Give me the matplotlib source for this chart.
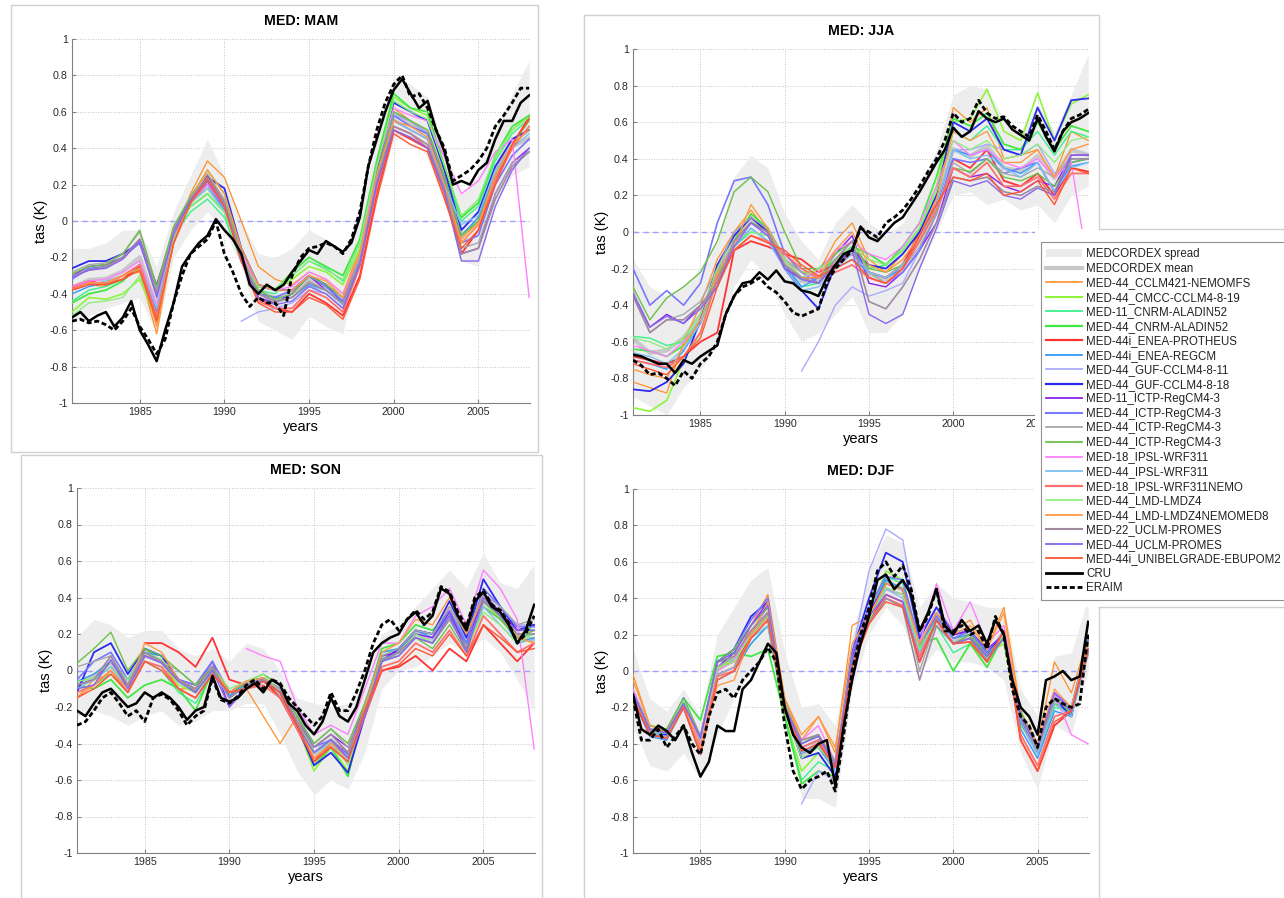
import numpy as np
import matplotlib
matplotlib.use("Agg")
import matplotlib.pyplot as plt
from matplotlib.patches import Rectangle, Patch
from matplotlib.lines import Line2D

nan = np.nan
W, H = 1284, 898

# time axes: half-year steps for the observations, yearly for the RCMs
years_obs = np.arange(1981, 2008.01, 0.5)
years_mod = np.arange(1981, 2009)

model_names = [
    "MED-44_CCLM421-NEMOMFS", "MED-44_CMCC-CCLM4-8-19", "MED-11_CNRM-ALADIN52",
    "MED-44_CNRM-ALADIN52", "MED-44i_ENEA-PROTHEUS", "MED-44i_ENEA-REGCM",
    "MED-44_GUF-CCLM4-8-11", "MED-44_GUF-CCLM4-8-18", "MED-11_ICTP-RegCM4-3",
    "MED-44_ICTP-RegCM4-3", "MED-44_ICTP-RegCM4-3", "MED-44_ICTP-RegCM4-3",
    "MED-18_IPSL-WRF311", "MED-44_IPSL-WRF311", "MED-18_IPSL-WRF311NEMO",
    "MED-44_LMD-LMDZ4", "MED-44_LMD-LMDZ4NEMOMED8", "MED-22_UCLM-PROMES",
    "MED-44_UCLM-PROMES", "MED-44i_UNIBELGRADE-EBUPOM2",
]
model_colors = [
    "#ff8f2a", "#8cf53c", "#3cf08c", "#44e644", "#ff3333", "#3399ff",
    "#aaaaff", "#2a2af0", "#8822ee", "#7777ff", "#a8a8a8", "#6cc04a",
    "#ff80ff", "#7ec0ee", "#ff7070", "#88ee77", "#ff9944", "#a08aa0",
    "#8866ee", "#ff5533",
]
model_widths = [0.9, 1.2, 1.0, 1.3, 1.3, 1.0, 1.0, 1.3, 1.0, 1.2,
                1.0, 1.0, 1.0, 1.0, 1.3, 0.9, 1.0, 1.2, 1.0, 1.0]

# ---------------- MAM ----------------
mam_cru = [-0.53, -0.50, -0.55, -0.52, -0.50, -0.58, -0.53, -0.44, -0.60, -0.68,
           -0.77, -0.60, -0.45, -0.25, -0.18, -0.12, -0.08, 0.01, -0.05, -0.10,
           -0.18, -0.35, -0.40, -0.35, -0.38, -0.35, -0.28, -0.22, -0.16, -0.18,
           -0.11, -0.14, -0.17, -0.12, 0.02, 0.30, 0.45, 0.60, 0.72, 0.78,
           0.70, 0.62, 0.66, 0.50, 0.38, 0.20, 0.22, 0.20, 0.28, 0.32,
           0.45, 0.55, 0.55, 0.65, 0.69]
mam_eraim = [-0.55, -0.54, -0.56, -0.55, -0.57, -0.60, -0.55, -0.48, -0.58, -0.65,
             -0.73, -0.65, -0.45, -0.30, -0.18, -0.14, -0.10, 0.00, -0.18, -0.28,
             -0.40, -0.47, -0.42, -0.45, -0.45, -0.52, -0.30, -0.20, -0.15, -0.14,
             -0.12, -0.14, -0.18, -0.10, 0.05, 0.30, 0.50, 0.65, 0.75, 0.80,
             0.68, 0.70, 0.62, 0.50, 0.40, 0.22, 0.25, 0.28, 0.33, 0.40,
             0.52, 0.58, 0.65, 0.73, 0.73]
mam_spread_hi = [-0.15, -0.15, -0.12, -0.05, -0.05, -0.25, 0.05, 0.25, 0.45, 0.25,
                 0.00, -0.18, -0.20, -0.15, -0.05, -0.10, -0.20, 0.05, 0.45, 0.80,
                 0.75, 0.68, 0.40, 0.15, 0.25, 0.50, 0.70, 0.88]
mam_spread_lo = [-0.55, -0.52, -0.48, -0.45, -0.42, -0.62, -0.20, -0.05, 0.05, -0.05,
                 -0.25, -0.55, -0.60, -0.65, -0.52, -0.58, -0.62, -0.20, 0.10, 0.45,
                 0.45, 0.35, 0.10, -0.22, -0.25, 0.10, 0.25, 0.30]
mam_models = [
    [-0.38, -0.35, -0.36, -0.30, -0.28, -0.62, -0.10, 0.15, 0.33, 0.24, 0.00, -0.25, -0.32, -0.35, -0.28, -0.32, -0.40, -0.15, 0.30, 0.62, 0.55, 0.50, 0.25, -0.10, 0.00, 0.28, 0.45, 0.50],
    [-0.50, -0.42, -0.43, -0.40, -0.32, -0.55, -0.12, 0.10, 0.18, 0.08, -0.20, -0.35, -0.38, -0.32, -0.25, -0.28, -0.35, -0.15, 0.32, 0.68, 0.62, 0.58, 0.30, 0.02, 0.10, 0.35, 0.50, 0.58],
    [-0.44, -0.38, -0.36, -0.32, -0.26, -0.50, -0.08, 0.05, 0.12, 0.02, -0.22, -0.38, -0.40, -0.30, -0.22, -0.26, -0.33, -0.12, 0.30, 0.66, 0.60, 0.55, 0.28, 0.00, 0.08, 0.33, 0.48, 0.56],
    [-0.45, -0.40, -0.38, -0.33, -0.24, -0.52, -0.06, 0.08, 0.15, 0.05, -0.20, -0.36, -0.38, -0.28, -0.20, -0.25, -0.30, -0.10, 0.33, 0.70, 0.62, 0.60, 0.30, 0.02, 0.10, 0.36, 0.52, 0.58],
    [-0.36, -0.33, -0.35, -0.32, -0.25, -0.55, -0.12, 0.10, 0.25, 0.10, -0.18, -0.42, -0.48, -0.50, -0.40, -0.45, -0.52, -0.30, 0.15, 0.50, 0.45, 0.40, 0.15, -0.18, -0.05, 0.22, 0.42, 0.57],
    [-0.40, -0.36, -0.34, -0.30, -0.24, -0.50, -0.08, 0.12, 0.20, 0.06, -0.20, -0.40, -0.42, -0.42, -0.35, -0.38, -0.45, -0.20, 0.28, 0.60, 0.55, 0.48, 0.20, -0.08, 0.02, 0.25, 0.42, 0.50],
    [nan, nan, nan, nan, nan, nan, nan, nan, nan, nan, -0.55, -0.50, -0.48, -0.45, -0.38, -0.40, -0.48, -0.22, 0.25, 0.58, 0.55, 0.48, 0.22, -0.05, 0.05, 0.28, 0.42, 0.50],
    [-0.26, -0.22, -0.22, -0.18, -0.12, -0.38, -0.05, 0.12, 0.24, 0.18, -0.15, -0.35, -0.38, -0.38, -0.30, -0.35, -0.45, -0.20, 0.25, 0.65, 0.60, 0.55, 0.28, -0.05, 0.05, 0.30, 0.45, 0.50],
    [-0.30, -0.25, -0.24, -0.20, -0.10, -0.35, -0.05, 0.10, 0.20, 0.08, -0.22, -0.42, -0.45, -0.40, -0.30, -0.38, -0.46, -0.22, 0.22, 0.55, 0.50, 0.45, 0.20, -0.18, -0.15, 0.15, 0.32, 0.40],
    [-0.32, -0.26, -0.25, -0.20, -0.12, -0.40, -0.06, 0.10, 0.22, 0.10, -0.20, -0.40, -0.42, -0.38, -0.30, -0.36, -0.44, -0.20, 0.25, 0.58, 0.52, 0.48, 0.22, -0.12, -0.08, 0.20, 0.36, 0.45],
    [-0.28, -0.24, -0.23, -0.18, -0.06, -0.38, -0.04, 0.14, 0.26, 0.12, -0.20, -0.40, -0.45, -0.42, -0.33, -0.38, -0.46, -0.22, 0.22, 0.56, 0.50, 0.45, 0.20, -0.15, -0.12, 0.15, 0.32, 0.38],
    [-0.29, -0.25, -0.24, -0.18, -0.05, -0.36, -0.03, 0.13, 0.28, 0.15, -0.18, -0.38, -0.43, -0.40, -0.30, -0.35, -0.42, -0.18, 0.26, 0.60, 0.55, 0.50, 0.24, -0.08, 0.00, 0.25, 0.42, 0.55],
    [-0.36, -0.33, -0.32, -0.28, -0.22, -0.46, -0.08, 0.10, 0.20, 0.08, -0.18, -0.36, -0.38, -0.36, -0.28, -0.32, -0.40, -0.18, 0.30, 0.62, 0.58, 0.55, 0.35, 0.15, 0.22, 0.38, 0.45, -0.42],
    [-0.38, -0.35, -0.33, -0.30, -0.24, -0.48, -0.08, 0.10, 0.18, 0.05, -0.20, -0.40, -0.44, -0.42, -0.36, -0.38, -0.46, -0.20, 0.22, 0.55, 0.50, 0.45, 0.20, -0.02, 0.03, 0.28, 0.40, 0.48],
    [-0.37, -0.34, -0.34, -0.30, -0.24, -0.52, -0.10, 0.10, 0.22, 0.08, -0.20, -0.44, -0.48, -0.48, -0.38, -0.42, -0.50, -0.25, 0.18, 0.52, 0.48, 0.40, 0.15, -0.12, -0.02, 0.22, 0.40, 0.52],
    [-0.52, -0.45, -0.44, -0.42, -0.30, -0.55, -0.10, 0.08, 0.15, 0.05, -0.22, -0.36, -0.37, -0.30, -0.22, -0.27, -0.32, -0.12, 0.30, 0.66, 0.60, 0.56, 0.30, 0.03, 0.12, 0.36, 0.50, 0.57],
    [-0.38, -0.34, -0.34, -0.30, -0.26, -0.58, -0.12, 0.12, 0.28, 0.15, -0.15, -0.35, -0.38, -0.38, -0.30, -0.33, -0.42, -0.18, 0.25, 0.55, 0.52, 0.46, 0.20, -0.12, -0.02, 0.25, 0.42, 0.50],
    [-0.30, -0.27, -0.25, -0.20, -0.10, -0.40, -0.06, 0.12, 0.24, 0.10, -0.20, -0.40, -0.44, -0.42, -0.34, -0.38, -0.45, -0.22, 0.22, 0.52, 0.48, 0.42, 0.18, -0.18, -0.15, 0.12, 0.30, 0.38],
    [-0.31, -0.27, -0.26, -0.21, -0.11, -0.42, -0.07, 0.11, 0.22, 0.08, -0.22, -0.42, -0.46, -0.44, -0.36, -0.40, -0.48, -0.24, 0.20, 0.50, 0.46, 0.40, 0.16, -0.22, -0.22, 0.08, 0.28, 0.40],
    [-0.38, -0.35, -0.35, -0.32, -0.27, -0.55, -0.12, 0.10, 0.23, 0.08, -0.22, -0.45, -0.50, -0.50, -0.42, -0.46, -0.54, -0.32, 0.12, 0.48, 0.42, 0.38, 0.12, -0.15, -0.05, 0.20, 0.42, 0.56],
]

# ---------------- JJA ----------------
jja_cru = [-0.67, -0.68, -0.70, -0.72, -0.72, -0.77, -0.70, -0.72, -0.68, -0.65,
           -0.62, -0.45, -0.35, -0.28, -0.27, -0.22, -0.26, -0.21, -0.27, -0.28,
           -0.32, -0.33, -0.35, -0.25, -0.18, -0.12, -0.10, 0.03, -0.03, -0.05,
           0.00, 0.05, 0.08, 0.15, 0.22, 0.30, 0.38, 0.45, 0.57, 0.52,
           0.55, 0.66, 0.62, 0.60, 0.62, 0.56, 0.53, 0.50, 0.62, 0.52,
           0.44, 0.55, 0.60, 0.62, 0.65]
jja_eraim = [-0.70, -0.73, -0.78, -0.77, -0.80, -0.84, -0.76, -0.80, -0.72, -0.68,
             -0.60, -0.45, -0.35, -0.30, -0.28, -0.25, -0.30, -0.33, -0.38, -0.44,
             -0.46, -0.44, -0.42, -0.28, -0.20, -0.15, -0.10, 0.02, 0.00, -0.03,
             0.05, 0.08, 0.12, 0.18, 0.25, 0.33, 0.40, 0.50, 0.65, 0.60,
             0.62, 0.72, 0.65, 0.62, 0.63, 0.58, 0.55, 0.52, 0.64, 0.55,
             0.45, 0.55, 0.62, 0.64, 0.67]
jja_spread_hi = [-0.15, -0.30, -0.35, -0.30, -0.20, -0.05, 0.30, 0.42, 0.35, 0.10,
                 -0.05, -0.15, 0.05, 0.15, 0.05, -0.02, 0.05, 0.25, 0.45, 0.75,
                 0.80, 0.78, 0.62, 0.55, 0.70, 0.55, 0.75, 0.97]
jja_spread_lo = [-0.90, -0.95, -1.00, -0.85, -0.75, -0.62, -0.30, -0.15, -0.25, -0.45,
                 -0.60, -0.55, -0.45, -0.35, -0.55, -0.55, -0.45, -0.20, 0.00, 0.20,
                 0.22, 0.15, 0.18, 0.12, 0.15, 0.05, 0.20, 0.25]
jja_models = [
    [-0.82, -0.85, -0.88, -0.60, -0.40, -0.15, 0.00, 0.12, 0.00, -0.15, -0.22, -0.22, -0.05, 0.05, -0.15, -0.22, -0.12, 0.00, 0.20, 0.68, 0.60, 0.68, 0.40, 0.42, 0.45, 0.30, 0.55, 0.50],
    [-0.96, -0.98, -0.92, -0.70, -0.55, -0.25, -0.05, 0.05, 0.02, -0.15, -0.22, -0.22, -0.15, -0.08, -0.20, -0.18, -0.10, 0.02, 0.25, 0.60, 0.62, 0.78, 0.55, 0.50, 0.76, 0.50, 0.70, 0.75],
    [-0.57, -0.58, -0.62, -0.60, -0.48, -0.22, -0.08, 0.00, -0.02, -0.18, -0.30, -0.28, -0.18, -0.10, -0.20, -0.18, -0.10, 0.02, 0.22, 0.55, 0.50, 0.58, 0.45, 0.45, 0.55, 0.42, 0.55, 0.52],
    [-0.64, -0.65, -0.68, -0.62, -0.50, -0.25, -0.05, 0.10, 0.02, -0.15, -0.25, -0.25, -0.15, -0.08, -0.12, -0.18, -0.08, 0.05, 0.30, 0.62, 0.58, 0.65, 0.48, 0.45, 0.60, 0.45, 0.58, 0.55],
    [-0.68, -0.70, -0.72, -0.68, -0.60, -0.55, -0.10, -0.05, -0.08, -0.12, -0.15, -0.22, -0.18, -0.12, -0.22, -0.25, -0.18, 0.00, 0.15, 0.40, 0.35, 0.45, 0.28, 0.25, 0.32, 0.20, 0.35, 0.33],
    [-0.70, -0.72, -0.75, -0.65, -0.50, -0.20, -0.08, 0.02, -0.05, -0.18, -0.30, -0.25, -0.20, -0.15, -0.22, -0.25, -0.20, -0.05, 0.15, 0.45, 0.42, 0.45, 0.35, 0.32, 0.38, 0.22, 0.36, 0.38],
    [nan, nan, nan, nan, nan, nan, nan, nan, nan, nan, -0.76, -0.60, -0.40, -0.30, -0.35, -0.32, -0.28, -0.10, 0.10, 0.45, 0.45, 0.48, 0.45, 0.42, 0.48, 0.32, 0.40, 0.40],
    [-0.86, -0.87, -0.82, -0.72, -0.48, -0.18, -0.02, 0.08, 0.00, -0.20, -0.32, -0.42, -0.18, -0.10, -0.18, -0.20, -0.12, 0.00, 0.20, 0.60, 0.55, 0.62, 0.45, 0.42, 0.68, 0.50, 0.72, 0.73],
    [-0.33, -0.52, -0.45, -0.50, -0.40, -0.30, -0.05, 0.05, 0.00, -0.20, -0.25, -0.25, -0.12, -0.02, -0.28, -0.30, -0.22, -0.10, 0.05, 0.35, 0.30, 0.32, 0.25, 0.22, 0.28, 0.25, 0.42, 0.42],
    [-0.20, -0.40, -0.32, -0.40, -0.28, 0.05, 0.28, 0.30, 0.15, -0.12, -0.22, -0.28, -0.18, -0.08, -0.25, -0.28, -0.22, -0.10, 0.10, 0.40, 0.38, 0.40, 0.32, 0.35, 0.38, 0.22, 0.38, 0.40],
    [-0.32, -0.55, -0.48, -0.45, -0.38, -0.20, 0.00, 0.08, 0.02, -0.15, -0.22, -0.25, -0.12, -0.05, -0.22, -0.28, -0.20, -0.08, 0.10, 0.38, 0.32, 0.40, 0.32, 0.30, 0.35, 0.30, 0.40, 0.40],
    [-0.30, -0.48, -0.36, -0.30, -0.22, -0.05, 0.22, 0.30, 0.22, 0.00, -0.20, -0.20, -0.12, -0.05, -0.20, -0.22, -0.18, -0.05, 0.12, 0.35, 0.33, 0.40, 0.30, 0.28, 0.32, 0.25, 0.38, 0.40],
    [-0.62, -0.65, -0.68, -0.60, -0.50, -0.22, -0.05, 0.05, -0.02, -0.15, -0.25, -0.22, -0.10, -0.05, -0.12, -0.15, -0.08, 0.05, 0.25, 0.50, 0.42, 0.45, 0.38, 0.35, 0.40, 0.30, 0.38, -0.20],
    [-0.66, -0.68, -0.72, -0.64, -0.50, -0.22, -0.08, 0.02, -0.05, -0.20, -0.32, -0.30, -0.20, -0.12, -0.22, -0.25, -0.18, -0.05, 0.15, 0.45, 0.40, 0.42, 0.35, 0.30, 0.38, 0.22, 0.35, 0.38],
    [-0.70, -0.72, -0.74, -0.68, -0.55, -0.25, -0.10, -0.02, -0.05, -0.12, -0.20, -0.25, -0.22, -0.18, -0.25, -0.28, -0.20, -0.05, 0.12, 0.35, 0.30, 0.38, 0.25, 0.25, 0.30, 0.18, 0.32, 0.32],
    [-0.58, -0.60, -0.64, -0.58, -0.45, -0.20, -0.05, 0.00, -0.02, -0.15, -0.25, -0.20, -0.15, -0.08, -0.15, -0.18, -0.10, 0.02, 0.22, 0.50, 0.45, 0.50, 0.40, 0.42, 0.48, 0.38, 0.50, 0.52],
    [-0.75, -0.78, -0.80, -0.62, -0.48, -0.22, -0.08, 0.15, 0.02, -0.18, -0.25, -0.25, -0.10, 0.00, -0.18, -0.22, -0.15, -0.02, 0.18, 0.55, 0.50, 0.55, 0.38, 0.38, 0.45, 0.30, 0.45, 0.48],
    [-0.35, -0.55, -0.48, -0.48, -0.40, -0.28, -0.05, 0.05, 0.00, -0.18, -0.25, -0.28, -0.15, -0.05, -0.38, -0.42, -0.30, -0.15, 0.05, 0.30, 0.28, 0.30, 0.22, 0.20, 0.25, 0.22, 0.40, 0.40],
    [-0.34, -0.52, -0.46, -0.50, -0.42, -0.30, -0.08, 0.05, -0.02, -0.20, -0.26, -0.28, -0.18, -0.10, -0.45, -0.50, -0.45, -0.20, 0.02, 0.28, 0.25, 0.28, 0.20, 0.18, 0.24, 0.20, 0.42, 0.42],
    [-0.72, -0.75, -0.78, -0.68, -0.58, -0.30, -0.10, -0.02, -0.06, -0.10, -0.18, -0.24, -0.20, -0.15, -0.25, -0.28, -0.20, -0.02, 0.15, 0.30, 0.28, 0.32, 0.20, 0.22, 0.28, 0.15, 0.35, 0.32],
]

# ---------------- SON ----------------
son_cru = [-0.22, -0.25, -0.18, -0.12, -0.10, -0.15, -0.20, -0.18, -0.12, -0.15,
           -0.12, -0.15, -0.20, -0.27, -0.22, -0.20, -0.03, -0.15, -0.17, -0.15,
           -0.10, -0.07, -0.12, -0.05, -0.08, -0.18, -0.22, -0.30, -0.35, -0.28,
           -0.15, -0.25, -0.28, -0.20, -0.05, 0.10, 0.15, 0.18, 0.20, 0.28,
           0.32, 0.25, 0.30, 0.45, 0.42, 0.30, 0.22, 0.38, 0.43, 0.35,
           0.32, 0.25, 0.15, 0.22, 0.36]
son_eraim = [-0.30, -0.28, -0.22, -0.15, -0.12, -0.18, -0.25, -0.22, -0.28, -0.15,
             -0.13, -0.16, -0.22, -0.30, -0.25, -0.22, -0.04, -0.16, -0.18, -0.14,
             -0.08, -0.05, -0.10, -0.05, -0.07, -0.15, -0.20, -0.25, -0.30, -0.25,
             -0.12, -0.22, -0.22, -0.12, 0.00, 0.15, 0.25, 0.28, 0.22, 0.28,
             0.33, 0.28, 0.32, 0.46, 0.43, 0.32, 0.24, 0.40, 0.44, 0.36,
             0.33, 0.26, 0.15, 0.20, 0.30]
son_spread_hi = [0.18, 0.28, 0.25, 0.18, 0.22, 0.22, 0.12, 0.08, 0.12, 0.05,
                 0.15, 0.12, 0.00, -0.15, -0.18, -0.20, -0.18, -0.05, 0.20, 0.25,
                 0.35, 0.45, 0.55, 0.45, 0.64, 0.48, 0.45, 0.58]
son_spread_lo = [-0.25, -0.22, -0.25, -0.30, -0.25, -0.22, -0.30, -0.28, -0.22, -0.22,
                 -0.18, -0.18, -0.35, -0.55, -0.68, -0.60, -0.65, -0.45, -0.10, 0.00,
                 0.02, 0.08, 0.15, 0.10, 0.18, 0.10, -0.05, -0.22]
son_models = [
    [-0.15, -0.05, -0.02, -0.12, 0.08, 0.05, -0.10, -0.10, 0.02, -0.12, -0.10, -0.25, -0.40, -0.25, -0.45, -0.38, -0.45, -0.20, 0.08, 0.10, 0.22, 0.20, 0.35, 0.18, 0.40, 0.32, 0.20, 0.15],
    [-0.08, -0.05, 0.02, -0.08, 0.12, 0.05, -0.08, -0.12, 0.00, -0.12, -0.08, -0.05, -0.15, -0.30, -0.55, -0.42, -0.55, -0.22, 0.08, 0.12, 0.22, 0.20, 0.32, 0.15, 0.38, 0.28, 0.18, 0.22],
    [-0.10, -0.08, -0.02, -0.12, 0.05, 0.00, -0.12, -0.18, -0.02, -0.12, -0.08, -0.05, -0.15, -0.32, -0.48, -0.40, -0.50, -0.22, 0.10, 0.12, 0.20, 0.18, 0.30, 0.15, 0.35, 0.28, 0.18, 0.20],
    [-0.08, -0.10, -0.05, -0.15, -0.08, -0.05, -0.10, -0.22, 0.00, -0.12, -0.08, -0.05, -0.15, -0.30, -0.52, -0.42, -0.58, -0.20, 0.12, 0.15, 0.25, 0.22, 0.32, 0.18, 0.38, 0.30, 0.18, 0.25],
    [nan, nan, nan, nan, 0.15, 0.15, 0.10, 0.02, 0.18, -0.05, -0.08, -0.05, -0.15, -0.32, -0.50, -0.40, -0.45, -0.25, 0.00, 0.02, 0.08, 0.00, 0.12, 0.05, 0.25, 0.15, 0.05, 0.15],
    [-0.06, -0.02, 0.05, -0.05, 0.10, 0.08, -0.05, -0.10, 0.05, -0.14, -0.06, -0.04, -0.12, -0.28, -0.45, -0.38, -0.48, -0.18, 0.10, 0.12, 0.22, 0.18, 0.30, 0.15, 0.38, 0.30, 0.15, 0.18],
    [nan, nan, nan, nan, nan, nan, nan, nan, nan, nan, -0.08, -0.05, -0.12, -0.30, -0.42, -0.35, -0.45, -0.20, 0.08, 0.12, 0.20, 0.18, 0.32, 0.18, 0.42, 0.35, 0.25, 0.25],
    [-0.12, 0.10, 0.15, -0.02, 0.12, 0.08, -0.05, -0.12, 0.02, -0.15, -0.08, -0.05, -0.12, -0.30, -0.52, -0.45, -0.56, -0.25, 0.05, 0.12, 0.22, 0.20, 0.38, 0.18, 0.50, 0.35, 0.22, 0.25],
    [-0.08, -0.05, 0.05, -0.08, 0.08, 0.05, -0.05, -0.08, 0.05, -0.20, -0.08, -0.05, -0.10, -0.28, -0.42, -0.35, -0.42, -0.20, 0.08, 0.10, 0.20, 0.18, 0.32, 0.12, 0.42, 0.32, 0.22, 0.22],
    [-0.05, 0.05, 0.10, -0.05, 0.10, 0.05, -0.05, -0.08, 0.05, -0.12, -0.06, -0.04, -0.10, -0.25, -0.42, -0.38, -0.46, -0.22, 0.06, 0.10, 0.22, 0.20, 0.33, 0.15, 0.45, 0.35, 0.24, 0.24],
    [0.02, 0.05, 0.08, -0.08, 0.08, 0.05, 0.00, -0.08, 0.02, -0.12, -0.06, -0.04, -0.10, -0.25, -0.40, -0.32, -0.42, -0.18, 0.08, 0.12, 0.22, 0.20, 0.35, 0.20, 0.42, 0.35, 0.25, 0.28],
    [0.04, 0.12, 0.21, 0.00, 0.12, 0.08, 0.00, -0.08, 0.02, -0.12, -0.06, -0.02, -0.08, -0.25, -0.40, -0.32, -0.40, -0.18, 0.06, 0.08, 0.18, 0.12, 0.25, 0.10, 0.35, 0.28, 0.18, 0.22],
    [nan, nan, nan, nan, nan, nan, nan, nan, nan, nan, 0.12, 0.08, 0.05, -0.20, -0.35, -0.30, -0.35, -0.10, 0.15, 0.15, 0.30, 0.35, 0.45, 0.25, 0.55, 0.45, 0.28, -0.43],
    [-0.10, -0.05, 0.02, -0.10, 0.05, 0.02, -0.10, -0.15, 0.00, -0.15, -0.08, -0.05, -0.12, -0.28, -0.45, -0.40, -0.50, -0.22, 0.05, 0.08, 0.18, 0.15, 0.28, 0.12, 0.35, 0.25, 0.15, 0.17],
    [-0.12, -0.08, 0.00, -0.12, 0.05, 0.02, -0.10, -0.15, -0.02, -0.12, -0.10, -0.08, -0.15, -0.32, -0.48, -0.42, -0.50, -0.25, 0.02, 0.05, 0.15, 0.10, 0.22, 0.08, 0.30, 0.20, 0.10, 0.15],
    [-0.06, -0.04, 0.05, -0.05, 0.10, 0.06, -0.05, -0.12, 0.02, -0.10, -0.06, -0.02, -0.12, -0.28, -0.45, -0.38, -0.52, -0.20, 0.05, 0.10, 0.20, 0.15, 0.28, 0.12, 0.32, 0.25, 0.15, 0.20],
    [-0.15, -0.08, 0.00, -0.10, 0.15, 0.10, -0.05, -0.10, 0.02, -0.12, -0.06, -0.04, -0.12, -0.28, -0.48, -0.40, -0.48, -0.20, 0.10, 0.15, 0.28, 0.25, 0.40, 0.20, 0.40, 0.30, 0.18, 0.15],
    [-0.08, -0.05, 0.08, -0.08, 0.10, 0.05, -0.05, -0.10, 0.02, -0.15, -0.08, -0.05, -0.12, -0.28, -0.42, -0.35, -0.45, -0.22, 0.05, 0.10, 0.18, 0.15, 0.28, 0.12, 0.38, 0.30, 0.20, 0.20],
    [-0.10, -0.08, 0.06, -0.10, 0.08, 0.04, -0.06, -0.12, 0.00, -0.20, -0.10, -0.06, -0.12, -0.30, -0.45, -0.38, -0.48, -0.25, 0.05, 0.08, 0.18, 0.15, 0.30, 0.10, 0.40, 0.30, 0.22, 0.22],
    [-0.15, -0.10, -0.02, -0.12, 0.05, 0.00, -0.10, -0.15, -0.02, -0.12, -0.10, -0.06, -0.12, -0.30, -0.50, -0.42, -0.50, -0.22, 0.00, 0.03, 0.12, 0.08, 0.20, 0.08, 0.25, 0.18, 0.10, 0.12],
]

# ---------------- DJF ----------------
djf_cru = [-0.13, -0.32, -0.35, -0.30, -0.33, -0.38, -0.30, -0.45, -0.58, -0.50,
           -0.30, -0.33, -0.33, -0.10, -0.05, 0.05, 0.15, 0.10, -0.20, -0.35,
           -0.42, -0.45, -0.40, -0.38, -0.63, -0.30, -0.05, 0.15, 0.30, 0.50,
           0.53, 0.45, 0.50, 0.42, 0.22, 0.32, 0.45, 0.25, 0.20, 0.28,
           0.22, 0.25, 0.15, 0.28, 0.20, -0.05, -0.20, -0.25, -0.35, -0.05,
           -0.03, 0.00, -0.05, -0.03, 0.27]
djf_eraim = [-0.15, -0.38, -0.38, -0.32, -0.42, -0.36, -0.30, -0.40, -0.46, -0.25,
             -0.12, -0.10, -0.15, -0.05, 0.00, 0.05, 0.13, 0.05, -0.30, -0.55,
             -0.65, -0.60, -0.58, -0.55, -0.66, -0.35, 0.00, 0.20, 0.35, 0.55,
             0.60, 0.52, 0.58, 0.45, 0.22, 0.30, 0.45, 0.22, 0.22, 0.25,
             0.20, 0.22, 0.12, 0.30, 0.20, -0.10, -0.25, -0.30, -0.42, -0.20,
             -0.15, -0.18, -0.20, -0.18, 0.20]
djf_spread_hi = [0.12, -0.15, -0.22, -0.10, -0.25, 0.20, 0.35, 0.50, 0.57, 0.10,
                 -0.20, -0.18, -0.30, 0.20, 0.55, 0.75, 0.70, 0.35, 0.48, 0.40,
                 0.38, 0.35, 0.35, -0.10, -0.25, 0.08, 0.10, 0.40]
djf_spread_lo = [-0.30, -0.52, -0.55, -0.45, -0.60, -0.35, -0.15, 0.00, 0.10, -0.20,
                 -0.70, -0.70, -0.75, -0.10, 0.20, 0.35, 0.25, 0.00, 0.12, 0.05,
                 0.05, 0.02, -0.05, -0.45, -0.65, -0.30, -0.35, 0.00]
djf_models = [
    [-0.02, -0.30, -0.32, -0.20, -0.42, 0.02, 0.05, 0.25, 0.42, -0.15, -0.38, -0.25, -0.45, 0.25, 0.30, 0.48, 0.45, 0.18, 0.35, 0.22, 0.28, 0.12, 0.35, -0.22, -0.40, 0.05, -0.12, 0.18],
    [-0.12, -0.35, -0.35, -0.18, -0.40, 0.00, 0.08, 0.22, 0.32, -0.25, -0.55, -0.45, -0.58, 0.05, 0.30, 0.55, 0.50, 0.15, 0.30, 0.18, 0.20, 0.10, 0.15, -0.30, -0.42, -0.18, -0.25, 0.15],
    [-0.12, -0.33, -0.35, -0.15, -0.38, 0.05, 0.06, 0.15, 0.25, -0.25, -0.60, -0.50, -0.55, 0.05, 0.28, 0.52, 0.48, 0.12, 0.25, 0.10, 0.15, 0.05, 0.18, -0.28, -0.45, -0.20, -0.22, 0.15],
    [-0.12, -0.30, -0.32, -0.15, -0.27, 0.08, 0.10, 0.08, 0.12, -0.25, -0.62, -0.55, -0.58, 0.02, 0.28, 0.50, 0.45, 0.15, 0.18, 0.00, 0.15, 0.02, 0.20, -0.25, -0.42, -0.18, -0.22, 0.18],
    [-0.15, -0.35, -0.36, -0.20, -0.45, -0.02, 0.02, 0.20, 0.30, -0.22, -0.45, -0.40, -0.52, 0.02, 0.28, 0.42, 0.38, 0.05, 0.28, 0.15, 0.18, 0.05, 0.22, -0.38, -0.55, -0.30, -0.22, 0.12],
    [-0.15, -0.36, -0.38, -0.20, -0.46, -0.05, 0.00, 0.15, 0.25, -0.22, -0.45, -0.42, -0.55, 0.05, 0.32, 0.50, 0.45, 0.12, 0.30, 0.18, 0.20, 0.08, 0.22, -0.32, -0.48, -0.22, -0.25, 0.12],
    [nan, nan, nan, nan, nan, nan, nan, nan, nan, nan, -0.73, -0.55, -0.60, 0.10, 0.55, 0.78, 0.72, 0.20, 0.35, 0.22, 0.22, 0.10, 0.20, -0.25, -0.40, -0.15, -0.22, 0.15],
    [-0.15, -0.35, -0.35, -0.15, -0.40, 0.05, 0.12, 0.30, 0.38, -0.20, -0.48, -0.45, -0.58, 0.10, 0.40, 0.65, 0.60, 0.18, 0.35, 0.20, 0.22, 0.10, 0.20, -0.28, -0.45, -0.15, -0.25, 0.18],
    [-0.12, -0.32, -0.33, -0.16, -0.38, 0.02, 0.10, 0.25, 0.38, -0.18, -0.40, -0.35, -0.55, 0.08, 0.32, 0.48, 0.45, 0.15, 0.32, 0.20, 0.22, 0.12, 0.20, -0.25, -0.45, -0.12, -0.22, 0.15],
    [-0.12, -0.32, -0.33, -0.15, -0.36, 0.05, 0.12, 0.28, 0.40, -0.18, -0.42, -0.38, -0.52, 0.10, 0.35, 0.52, 0.50, 0.15, 0.30, 0.18, 0.22, 0.10, 0.18, -0.25, -0.42, -0.12, -0.20, 0.18],
    [-0.12, -0.33, -0.34, -0.18, -0.38, 0.02, 0.08, 0.22, 0.35, -0.20, -0.40, -0.35, -0.52, 0.05, 0.28, 0.45, 0.42, 0.00, 0.28, 0.15, 0.18, 0.08, 0.20, -0.25, -0.45, -0.15, -0.22, 0.10],
    [-0.12, -0.32, -0.33, -0.15, -0.36, 0.05, 0.12, 0.25, 0.35, -0.18, -0.40, -0.35, -0.50, 0.06, 0.30, 0.45, 0.42, 0.12, 0.28, 0.15, 0.20, 0.08, 0.20, -0.22, -0.42, -0.15, -0.22, 0.15],
    [-0.10, -0.32, -0.34, -0.18, -0.40, 0.00, 0.06, 0.22, 0.32, -0.20, -0.38, -0.30, -0.50, 0.05, 0.30, 0.45, 0.42, 0.15, 0.48, 0.22, 0.38, 0.15, 0.25, -0.25, -0.42, -0.12, -0.35, -0.40],
    [-0.14, -0.34, -0.36, -0.18, -0.45, -0.02, 0.02, 0.18, 0.25, -0.22, -0.45, -0.40, -0.55, 0.05, 0.30, 0.45, 0.40, 0.10, 0.28, 0.15, 0.18, 0.06, 0.20, -0.28, -0.46, -0.18, -0.25, 0.12],
    [-0.14, -0.35, -0.37, -0.20, -0.44, -0.03, 0.00, 0.18, 0.28, -0.22, -0.42, -0.38, -0.52, 0.02, 0.26, 0.40, 0.36, 0.08, 0.28, 0.15, 0.16, 0.05, 0.22, -0.35, -0.52, -0.25, -0.22, 0.12],
    [-0.12, -0.32, -0.34, -0.16, -0.38, 0.02, 0.05, 0.20, 0.30, -0.22, -0.48, -0.42, -0.52, 0.05, 0.28, 0.46, 0.42, 0.12, 0.28, 0.15, 0.18, 0.06, 0.20, -0.25, -0.42, -0.15, -0.20, 0.15],
    [-0.05, -0.30, -0.33, -0.18, -0.42, -0.08, -0.05, 0.20, 0.38, -0.15, -0.35, -0.25, -0.42, 0.15, 0.30, 0.48, 0.45, 0.15, 0.32, 0.20, 0.25, 0.12, 0.32, -0.25, -0.40, -0.10, -0.20, 0.15],
    [-0.12, -0.33, -0.34, -0.18, -0.36, 0.05, 0.08, 0.22, 0.32, -0.20, -0.38, -0.35, -0.50, 0.05, 0.26, 0.40, 0.35, -0.05, 0.25, 0.15, 0.18, 0.06, 0.18, -0.25, -0.42, -0.15, -0.22, 0.10],
    [-0.12, -0.32, -0.34, -0.18, -0.37, 0.05, 0.10, 0.25, 0.36, -0.20, -0.40, -0.36, -0.52, 0.06, 0.30, 0.42, 0.38, 0.05, 0.28, 0.15, 0.18, 0.08, 0.18, -0.25, -0.42, -0.12, -0.22, 0.12],
    [-0.15, -0.35, -0.37, -0.20, -0.46, -0.05, 0.00, 0.18, 0.28, -0.22, -0.44, -0.40, -0.53, 0.02, 0.26, 0.38, 0.35, 0.05, 0.28, 0.15, 0.16, 0.05, 0.22, -0.38, -0.55, -0.28, -0.22, 0.12],
]

plt.rcParams['font.family'] = ['Liberation Sans', 'DejaVu Sans']
plt.rcParams['axes.unicode_minus'] = False


def px_rect(x0, y0, x1, y1):
    # pixel box (from top-left) -> figure fraction [left, bottom, width, height]
    return [x0 / W, 1 - y1 / H, (x1 - x0) / W, (y1 - y0) / H]


def add_box(fig, x0, y0, x1, y1, **kw):
    r = px_rect(x0, y0, x1, y1)
    fig.add_artist(Rectangle(r[:2], r[2], r[3], transform=fig.transFigure, **kw))


def draw_panel(ax, title, cru, eraim, lo, hi, models):
    ax.fill_between(years_mod, lo, hi, color='#ededed', lw=0, zorder=1)
    ax.axhline(0, color='#9f9fff', lw=1.0, ls=(0, (4, 3)), zorder=2)
    mean = np.nanmean(np.array(models, dtype=float), axis=0)
    ax.plot(years_mod, mean, color='#c8c8c8', lw=3, zorder=2)
    for vals, c, lw in zip(models, model_colors, model_widths):
        ax.plot(years_mod, vals, color=c, lw=lw, zorder=3)
    ax.plot(years_obs, eraim, color='black', lw=2.0, ls=(0, (1.8, 1.0)), zorder=4)
    ax.plot(years_obs, cru, color='black', lw=1.8, zorder=5)

    ax.set_xlim(1981, 2008.05)
    ax.set_ylim(-1, 1)
    ax.set_xticks([1985, 1990, 1995, 2000, 2005])
    yt = [-1, -0.8, -0.6, -0.4, -0.2, 0, 0.2, 0.4, 0.6, 0.8, 1]
    ax.set_yticks(yt)
    ax.set_yticklabels(['%g' % v for v in yt])
    ax.grid(True, ls=':', color='#c4c4c4', lw=0.7)
    ax.set_axisbelow(True)
    for s in ('top', 'right'):
        ax.spines[s].set_visible(False)
    for s in ('left', 'bottom'):
        ax.spines[s].set_color('#808080')
    ax.tick_params(direction='in', length=3, color='#808080',
                   labelsize=7.7, pad=3, labelcolor='#2a2a2a')
    ax.set_title(title, fontsize=10.2, fontweight='bold', pad=10)
    ax.set_xlabel('years', fontsize=10.5, labelpad=2)
    ax.set_ylabel('tas (K)', fontsize=10.5, labelpad=1)


fig = plt.figure(figsize=(W / 100, H / 100), dpi=100)

# frames around the four exported panels
frame_kw = dict(fill=False, ec='#d0d0d0', lw=1.0, zorder=1)
add_box(fig, 10.8, 5, 538, 452, **frame_kw)
add_box(fig, 21.5, 455, 542, 905, **frame_kw)
add_box(fig, 583.7, 15, 1098.7, 905, **frame_kw)

ax_mam = fig.add_axes(px_rect(72, 39, 530, 403))
ax_jja = fig.add_axes(px_rect(633, 49, 1089, 415))
ax_son = fig.add_axes(px_rect(77, 488, 535, 853))
ax_djf = fig.add_axes(px_rect(633, 489, 1089, 853))

draw_panel(ax_mam, 'MED: MAM', mam_cru, mam_eraim, mam_spread_lo, mam_spread_hi, mam_models)
draw_panel(ax_jja, 'MED: JJA', jja_cru, jja_eraim, jja_spread_lo, jja_spread_hi, jja_models)
draw_panel(ax_son, 'MED: SON', son_cru, son_eraim, son_spread_lo, son_spread_hi, son_models)
draw_panel(ax_djf, 'MED: DJF', djf_cru, djf_eraim, djf_spread_lo, djf_spread_hi, djf_models)

# white block under the legend (it hides the right part of JJA and DJF)
add_box(fig, 1035, 229, 1290, 607, fc='white', ec='none', zorder=3)
for yy in (229, 607):
    fig.add_artist(Line2D([1098.7 / W, 1], [1 - yy / H] * 2, transform=fig.transFigure,
                          color='#d0d0d0', lw=1.0, zorder=4))

handles = [Patch(facecolor='#ebebeb', edgecolor='none'),
           Line2D([], [], color='#c8c8c8', lw=3)]
handles += [Line2D([], [], color=c, lw=lw + 0.3) for c, lw in zip(model_colors, model_widths)]
handles += [Line2D([], [], color='black', lw=2.0),
            Line2D([], [], color='black', lw=2.0, ls=(0, (1.8, 1.0)))]
labels = ['MEDCORDEX spread', 'MEDCORDEX mean'] + model_names + ['CRU', 'ERAIM']

leg = fig.legend(handles, labels, loc='upper left',
                 bbox_to_anchor=(1040.6 / W, 1 - 242.3 / H), borderaxespad=0,
                 fontsize=8.3, frameon=True, fancybox=False, framealpha=1,
                 edgecolor='#909090', borderpad=0.5, labelspacing=0.22,
                 handlelength=3.1, handletextpad=0.35)
leg.set_zorder(5)
leg.get_frame().set_linewidth(0.8)
for t in leg.get_texts():
    t.set_color('#222222')

fig.savefig('out.png', dpi=100, facecolor='white')
